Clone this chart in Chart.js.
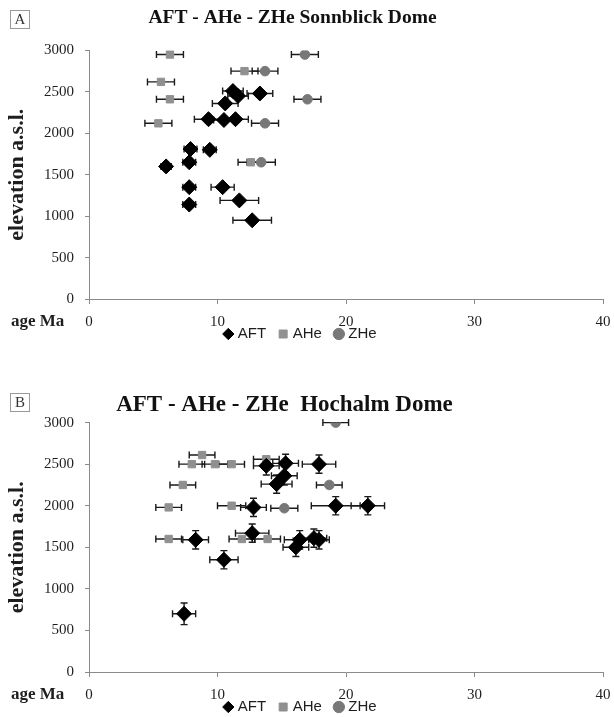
<!DOCTYPE html>
<html>
<head>
<meta charset="utf-8">
<script src="https://cdn.jsdelivr.net/npm/chart.js@4/dist/chart.umd.min.js"></script>
<style>
html, body { margin: 0; padding: 0; background: #fff; overflow: hidden; }
#wrap { position: relative; width: 614px; height: 717px; overflow: hidden; }
canvas { position: absolute; left: 0; }
#chartA { top: 0; }
#chartB { top: 350px; }
</style>
</head>
<body>
<div id="wrap">
  <canvas id="chartA" width="614" height="371"></canvas>
  <canvas id="chartB" width="614" height="394"></canvas>
</div>
<script>
'use strict'

// [age Ma, elevation m, age error]  -- Sonnblick Dome
const aftSonnblick = [
    [11.2, 2510, 0.8], [11.6, 2450, 0.8], [13.3, 2480, 1.0], [10.6, 2360, 1.0],
    [9.3, 2170, 1.1], [10.5, 2160, 0.8], [11.4, 2170, 1.0], [7.9, 1810, 0.5],
    [9.4, 1800, 0.5], [6.0, 1600, 0.4], [7.8, 1650, 0.5], [7.8, 1350, 0.5],
    [10.4, 1350, 0.9], [11.7, 1190, 1.5], [7.8, 1140, 0.5], [12.7, 950, 1.5]
]
const aheSonnblick = [
    [6.3, 2950, 1.05], [12.1, 2750, 1.05], [5.6, 2620, 1.05],
    [6.3, 2410, 1.05], [5.4, 2120, 1.05], [12.6, 1650, 1.0]
]
const zheSonnblick = [
    [16.8, 2950, 1.05], [13.7, 2750, 1.0], [17.0, 2410, 1.05],
    [13.7, 2120, 1.05], [13.4, 1650, 1.1]
]

// [age Ma, elevation m, age error, elevation error]  -- Hochalm Dome
const aftHochalm = [
    [13.8, 2480, 1.0, 110], [15.3, 2510, 1.0, 110], [17.9, 2500, 1.3, 110],
    [15.2, 2360, 1.0, 110], [14.6, 2260, 1.2, 110], [12.8, 1980, 1.0, 110],
    [19.2, 2000, 1.9, 110], [21.7, 2000, 1.3, 110], [12.7, 1670, 1.3, 110],
    [8.3, 1590, 1.0, 110], [16.4, 1590, 1.2, 110], [16.1, 1500, 1.0, 110],
    [17.5, 1610, 1.0, 110], [17.9, 1590, 0.8, 110], [10.5, 1350, 1.1, 110],
    [7.4, 700, 0.9, 130]
]
const aheHochalm = [
    [8.8, 2610, 1.0], [8.0, 2500, 1.0], [9.8, 2500, 1.0], [11.1, 2500, 1.0],
    [13.8, 2560, 1.0], [7.3, 2250, 1.0], [6.2, 1980, 1.0], [11.1, 2000, 1.1],
    [6.2, 1600, 1.0], [11.9, 1600, 1.0], [13.9, 1600, 1.0]
]
const zheHochalm = [
    [19.2, 3000, 1.0], [18.7, 2250, 1.0], [15.2, 1970, 1.05]
]

const seriesNames = ['AFT', 'AHe', 'ZHe']
const xTicks = [0, 10, 20, 30, 40]
const yTicks = [0, 500, 1000, 1500, 2000, 2500, 3000]

const AXIS_COLOR = '#8a8a8a'
const TEXT_COLOR = '#1e1e1e'
const SERIF = '"Liberation Serif", "Times New Roman", serif'
const LEGEND_PAD = 15
const LEGEND_FONT = 15

function toPoints(rows) {
    return rows.map(r => ({ x: r[0], y: r[1], xErr: r[2], yErr: r[3] || 0 }))
}

// horizontal / vertical error bars with end caps
const errorBars = {
    id: 'errorBars',
    beforeDatasetsDraw(chart) {
        const ctx = chart.ctx
        const xs = chart.scales.x
        const ys = chart.scales.y
        ctx.save()
        ctx.strokeStyle = '#1a1a1a'
        ctx.lineWidth = 1.4
        chart.data.datasets.forEach(ds => {
            ds.data.forEach(p => {
                const x = xs.getPixelForValue(p.x)
                const y = ys.getPixelForValue(p.y)
                ctx.beginPath()
                if (p.xErr) {
                    const x1 = xs.getPixelForValue(p.x - p.xErr)
                    const x2 = xs.getPixelForValue(p.x + p.xErr)
                    ctx.moveTo(x1, y); ctx.lineTo(x2, y)
                    ctx.moveTo(x1, y - 3.5); ctx.lineTo(x1, y + 3.5)
                    ctx.moveTo(x2, y - 3.5); ctx.lineTo(x2, y + 3.5)
                }
                if (p.yErr) {
                    const y1 = ys.getPixelForValue(p.y - p.yErr)
                    const y2 = ys.getPixelForValue(p.y + p.yErr)
                    ctx.moveTo(x, y1); ctx.lineTo(x, y2)
                    ctx.moveTo(x - 3.5, y1); ctx.lineTo(x + 3.5, y1)
                    ctx.moveTo(x - 3.5, y2); ctx.lineTo(x + 3.5, y2)
                }
                ctx.stroke()
            })
        })
        ctx.restore()
    }
}

// boxed panel letter, "age Ma" label, and title / legend nudges
const panelText = {
    id: 'panelText',
    afterLayout(chart, args, opts) {
        chart.titleBlock.left += opts.titleShift
        chart.titleBlock.right += opts.titleShift
        // legend sits on the tick-label row, as in the original figure
        const lg = chart.legend
        const h = lg.bottom - lg.top
        lg.top = opts.legendY - LEGEND_PAD - LEGEND_FONT / 2
        lg.bottom = lg.top + h
    },
    afterDraw(chart, args, opts) {
        const ctx = chart.ctx
        const xs = chart.scales.x
        ctx.save()
        ctx.strokeStyle = '#9a9a9a'
        ctx.lineWidth = 1
        ctx.strokeRect(opts.boxX + 0.5, opts.boxY + 0.5, 19, 18)
        ctx.fillStyle = '#333'
        ctx.font = '15px ' + SERIF
        ctx.textAlign = 'center'
        ctx.textBaseline = 'middle'
        ctx.fillText(opts.letter, opts.boxX + 10, opts.boxY + 10)

        ctx.font = 'bold 17px ' + SERIF
        ctx.textAlign = 'left'
        ctx.fillStyle = TEXT_COLOR
        ctx.fillText('age Ma', 11, xs.top + 23)
        ctx.restore()
    }
}

function makeChart(el, cfg) {
    const datasets = [
        {
            label: seriesNames[0], data: toPoints(cfg.aft),
            pointStyle: 'rectRot', pointRadius: 7.5,
            backgroundColor: '#000', borderColor: '#000', borderWidth: 1
        },
        {
            label: seriesNames[1], data: toPoints(cfg.ahe),
            pointStyle: 'rect', pointRadius: 5.2,
            backgroundColor: '#909090', borderColor: '#909090', borderWidth: 1
        },
        {
            label: seriesNames[2], data: toPoints(cfg.zhe),
            pointStyle: 'circle', pointRadius: 4.8,
            backgroundColor: '#787878', borderColor: '#787878', borderWidth: 1
        }
    ]

    return new Chart(el, {
        type: 'scatter',
        data: { datasets },
        plugins: [errorBars, panelText],
        options: {
            responsive: false,
            animation: false,
            devicePixelRatio: 1,
            layout: { padding: { left: 0, right: 11, top: 0, bottom: 0 } },
            plugins: {
                tooltip: { enabled: false },
                title: {
                    display: true,
                    text: cfg.title,
                    color: '#111',
                    font: { family: SERIF, size: cfg.titleSize, weight: 'bold' },
                    padding: { top: cfg.titleTop, bottom: cfg.titleBottom }
                },
                legend: {
                    position: 'bottom',
                    labels: {
                        usePointStyle: true,
                        boxWidth: 4,
                        boxHeight: 8,
                        padding: LEGEND_PAD,
                        color: TEXT_COLOR,
                        font: { family: '"Liberation Sans", Arial, sans-serif', size: LEGEND_FONT }
                    }
                },
                panelText: {
                    letter: cfg.letter, boxX: 10, boxY: cfg.boxY,
                    titleShift: cfg.titleShift, legendY: cfg.legendY
                }
            },
            scales: {
                x: {
                    type: 'linear',
                    min: xTicks[0],
                    max: xTicks[xTicks.length - 1],
                    afterBuildTicks: s => { s.ticks = xTicks.map(v => ({ value: v })) },
                    afterFit: s => {
                        s.height = 32
                        s.paddingLeft = 0
                        s.paddingRight = 0
                    },
                    ticks: {
                        color: TEXT_COLOR,
                        padding: 9,
                        maxRotation: 0,
                        font: { family: SERIF, size: 15 }
                    },
                    grid: { drawOnChartArea: false, drawTicks: true, tickLength: 5, color: AXIS_COLOR },
                    border: { display: true, color: AXIS_COLOR, width: 1 }
                },
                y: {
                    type: 'linear',
                    min: yTicks[0],
                    max: yTicks[yTicks.length - 1],
                    afterBuildTicks: s => { s.ticks = yTicks.map(v => ({ value: v })) },
                    afterFit: s => { s.width = 89 },
                    ticks: {
                        color: TEXT_COLOR,
                        padding: 11,
                        font: { family: SERIF, size: 15 },
                        callback: v => String(v)
                    },
                    grid: { drawOnChartArea: false, drawTicks: true, tickLength: 4, color: AXIS_COLOR },
                    border: { display: true, color: AXIS_COLOR, width: 1 },
                    title: {
                        display: true,
                        text: 'elevation a.s.l.',
                        color: TEXT_COLOR,
                        font: { family: SERIF, size: 22, weight: 'bold' },
                        padding: { top: 4, bottom: 0 }
                    }
                }
            }
        }
    })
}

makeChart(document.getElementById('chartA'), {
    aft: aftSonnblick, ahe: aheSonnblick, zhe: zheSonnblick,
    title: 'AFT - AHe - ZHe Sonnblick Dome',
    titleSize: 19.5, titleTop: 6, titleBottom: 21, titleShift: -9,
    letter: 'A', boxY: 10, legendY: 334
})

makeChart(document.getElementById('chartB'), {
    aft: aftHochalm, ahe: aheHochalm, zhe: zheHochalm,
    title: 'AFT - AHe - ZHe  Hochalm Dome',
    titleSize: 23, titleTop: 41, titleBottom: 4, titleShift: -17,
    letter: 'B', boxY: 43, legendY: 357
})
</script>
</body>
</html>
